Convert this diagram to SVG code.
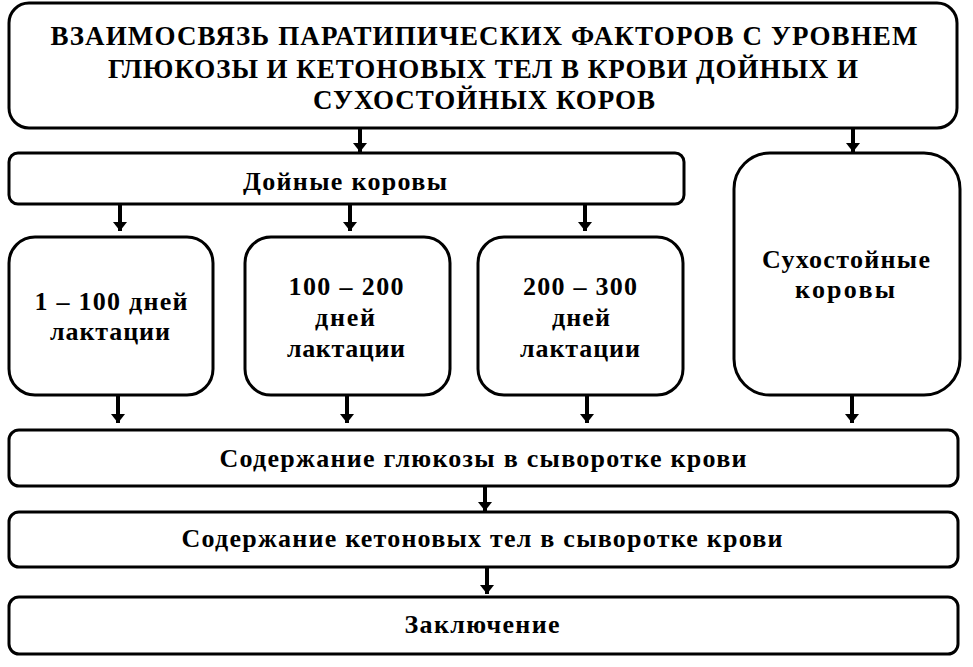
<svg xmlns="http://www.w3.org/2000/svg" width="973" height="667" viewBox="0 0 973 667">
<style>
.box{fill:#fff;stroke:#000;stroke-width:3}
.conn path{stroke:#000;stroke-width:4;fill:none;marker-end:url(#ah)}
</style>
<defs>
<marker id="ah" markerUnits="userSpaceOnUse" markerWidth="10" markerHeight="14" refX="9" refY="7" orient="auto" viewBox="0 0 10 14">
<path d="M0,0 L9,7 L0,14 Z" fill="#000"/>
</marker>
</defs>
<rect width="973" height="667" fill="#fff"/>
<g font-family="Liberation Serif, Times New Roman, serif" font-weight="bold" text-anchor="middle" fill="#000" font-size="26" lengthAdjust="spacing">
<g id="title" font-size="27">
<rect class="box" x="9" y="3" width="948" height="125" rx="20"/>
<text x="484" y="45" textLength="867">ВЗАИМОСВЯЗЬ ПАРАТИПИЧЕСКИХ ФАКТОРОВ С УРОВНЕМ</text>
<text x="483" y="78" textLength="750">ГЛЮКОЗЫ И КЕТОНОВЫХ ТЕЛ В КРОВИ ДОЙНЫХ И</text>
<text x="484" y="109" textLength="342">СУХОСТОЙНЫХ КОРОВ</text>
</g>
<g id="dairy">
<rect class="box" x="9" y="153" width="675" height="51" rx="9"/>
<text x="345" y="190" textLength="204">Дойные коровы</text>
</g>
<g id="lact1">
<rect class="box" x="9" y="237" width="204" height="158" rx="26"/>
<text x="111" y="310" textLength="153">1 – 100 дней</text>
<text x="110" y="340" textLength="120">лактации</text>
</g>
<g id="lact2">
<rect class="box" x="245" y="237" width="205" height="158" rx="26"/>
<text x="346" y="295" textLength="115">100 – 200</text>
<text x="345" y="326" textLength="60">дней</text>
<text x="346" y="357" textLength="118">лактации</text>
</g>
<g id="lact3">
<rect class="box" x="478" y="237" width="205" height="158" rx="26"/>
<text x="580" y="295" textLength="114">200 – 300</text>
<text x="581" y="326" textLength="58">дней</text>
<text x="580" y="357" textLength="120">лактации</text>
</g>
<g id="dry">
<rect class="box" x="734" y="153" width="226" height="242" rx="36"/>
<text x="846" y="268" textLength="168">Сухостойные</text>
<text x="845" y="298" textLength="100">коровы</text>
</g>
<g id="glucose">
<rect class="box" x="9" y="430" width="949" height="56" rx="10"/>
<text x="483" y="467" textLength="527">Содержание глюкозы в сыворотке крови</text>
</g>
<g id="ketone">
<rect class="box" x="9" y="512" width="949" height="55" rx="10"/>
<text x="482" y="547" textLength="601">Содержание кетоновых тел в сыворотке крови</text>
</g>
<g id="conclusion">
<rect class="box" x="9" y="597" width="949" height="57" rx="10"/>
<text x="482" y="633" textLength="155">Заключение</text>
</g>
</g>
<g class="conn" id="connectors">
<path d="M360,129 V152"/>
<path d="M853,129 V152"/>
<path d="M120,205 V231"/>
<path d="M350,205 V231"/>
<path d="M585,205 V231"/>
<path d="M118,396 V423"/>
<path d="M347,396 V423"/>
<path d="M587,396 V423"/>
<path d="M852,396 V423"/>
<path d="M485,487 V511"/>
<path d="M487,568 V594"/>
</g>
</svg>
